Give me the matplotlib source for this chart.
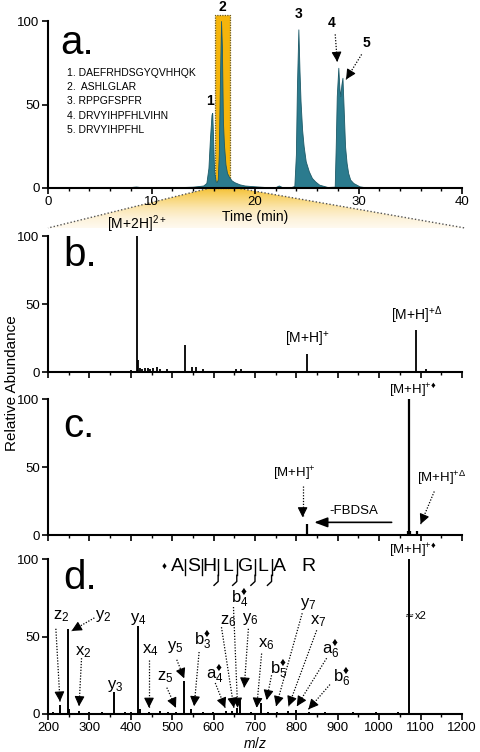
import numpy as np
import matplotlib.pyplot as plt
from matplotlib.patches import Polygon, Rectangle
from matplotlib.colors import LinearSegmentedColormap

plt.rcParams['font.family'] = ['Liberation Sans', 'DejaVu Sans']
plt.rcParams['mathtext.fontset'] = 'custom'
plt.rcParams['mathtext.rm'] = 'Liberation Sans'
plt.rcParams['mathtext.it'] = 'Liberation Sans:italic'
plt.rcParams['mathtext.fallback'] = 'stix'

# ---- panel a: LC chromatogram (time in min, relative intensity) ----
lc_time = [0, 2, 4, 6, 8, 8.5, 9, 10, 12, 13, 14, 14.6, 15.0, 15.3, 15.5, 15.65, 15.8, 15.87,
           15.95, 16.05, 16.2, 16.3, 16.4, 16.5, 16.6, 16.72, 16.8, 16.9, 17.0, 17.15, 17.3,
           17.5, 17.75, 18.0, 18.5, 19.0, 20.0, 21.0, 22.0, 22.3, 22.6, 23.5, 23.8, 23.95,
           24.05, 24.19, 24.3, 24.4, 24.55, 24.7, 24.9, 25.2, 25.5, 25.8, 26.2, 27.0, 27.7,
           27.8, 27.9, 28.05, 28.15, 28.24, 28.35, 28.45, 28.55, 28.7, 28.85, 29.0, 29.2,
           29.5, 30.1, 30.6, 32, 35, 38, 40]
lc_int = [0.3, 0.4, 0.3, 0.4, 0.6, 0.9, 0.5, 0.3, 0.4, 0.6, 0.8, 1.2, 1.5, 3, 12, 30, 44, 45,
          30, 10, 4, 3.6, 5, 20, 60, 100, 85, 40, 26, 14, 9,
          6.5, 4.5, 3.5, 2.2, 1.5, 1.0, 0.6, 0.6, 1.5, 0.6, 0.6, 1.2, 20,
          60, 95, 70, 52, 35, 25, 16, 10, 6, 4, 2, 0.6, 0.8,
          25, 55, 72, 60, 55, 62, 66, 50, 25, 15, 9, 5,
          3, 1, 0.5, 0.4, 0.5, 0.6, 0.3]
peak_ids = ['1', '2', '3', '4', '5']
peptides = ['1. DAEFRHDSGYQVHHQK', '2.  ASHLGLAR', '3. RPPGFSPFR',
            '4. DRVYIHPFHLVIHN', '5. DRVYIHPFHL']
sel_window = (16.1, 17.6)

# ---- panel b: full MS ----
ms1_mz = [400, 414.2, 418, 421.4, 428, 433.6, 441.7, 447, 453.8, 464.3, 470, 488.4, 510, 531,
          547, 557.5, 575, 599, 620, 640, 654, 665, 700, 744, 754, 790, 825.6, 870, 950, 1020,
          1060, 1089, 1112, 1135, 1150, 1178, 1195]
ms1_int = [1.5, 100, 9, 3, 2, 3, 3, 2, 3, 4, 2, 2.5, 1, 20,
           4, 4, 2, 1, 1, 1, 2.5, 2.5, 1, 1, 1, 0.8, 13, 0.6, 0.6, 0.8,
           1, 31, 2, 1, 0.8, 1, 1]

# ---- panel c: activation of [M+H]+* ----
ms2_mz = [825.6, 1070, 1072.8, 1075, 1090.6]
ms2_int = [8, 3, 100, 3, 3]

# ---- panel d: MS3 fragments ----
ms3_mz = [212, 229, 247.5, 251.6, 274.9, 300, 330, 360, 386, 400, 416.5, 422, 444, 470, 490,
          510, 529, 545, 575, 599, 630, 645, 657, 664, 690, 714, 732, 752, 780, 800, 830,
          870, 937, 993, 1045, 1073]
ms3_int = [1, 5.6, 55, 3, 2, 1, 1, 14.2, 1.5, 1, 56.5, 3, 1, 2, 1,
           1, 21, 3, 1, 1, 2, 2, 4, 10, 1.5, 7, 1, 1.5, 2, 2.5, 1,
           1, 1, 1.2, 1, 100]

# fragment labels: (text, label x, label y, arrow start, arrow end)
frag_labels = [
    ('z_2', 233, 63, (219, 55), (229, 8)),
    ('y_2', 334, 63, (312, 62), (257, 53.6)),
    ('x_2', 285, 40, (281, 36), (275, 5)),
    ('y_3', 362, 18, None, None),
    ('y_4', 418, 61, None, None),
    ('x_4', 446, 41, (444, 35), (444, 4)),
    ('y_5', 507, 43.5, (511, 35), (529, 23)),
    ('z_5', 483, 24, (487, 17), (509, 4)),
    ('b_3^{\u2666}', 574, 48, (565, 40), (553, 5)),
    ('a_4^{\u2666}', 602, 26, (604, 20), (628, 4)),
    ('z_6', 635, 60, (619, 56), (649, 4)),
    ('b_4^{\u2666}', 664, 75, (648, 69), (658, 4)),
    ('y_6', 688, 61, (684, 55), (674, 17)),
    ('x_6', 728, 45, (716, 39), (704, 4)),
    ('b_5^{\u2666}', 758, 29, (740, 25), (728, 9)),
    ('y_7', 828, 71, (814, 65), (751, 5)),
    ('x_7', 852, 60, (849, 54), (781, 5)),
    ('a_6^{\u2666}', 884, 42, (873, 36), (801, 5)),
    ('b_6^{\u2666}', 909, 24, (881, 19), (829, 3)),
]
seq_letters = ['\u2666', 'A', 'S', 'H', 'L', 'G', 'L', 'A', 'R']
seq_pos = [480, 512, 551, 591, 634, 678, 720, 760, 828]
cut_pos = [531, 571, 611, 656, 700, 740]
cut_nterm = [False, False, True, True, True, True]

W, H = 481, 752
fig = plt.figure(figsize=(W / 100, H / 100), dpi=100)

L, Wd = 48 / W, 414 / W
ax_a = fig.add_axes([L, 1 - 188 / H, Wd, 167 / H])
ax_b = fig.add_axes([L, 1 - 372 / H, Wd, 136 / H])
ax_c = fig.add_axes([L, 1 - 535 / H, Wd, 136 / H])
ax_d = fig.add_axes([L, 1 - 714 / H, Wd, 155 / H])

# overlay for the zoom-out gradient
ov = fig.add_axes([0, 0, 1, 1], zorder=-1)
ov.set_xlim(0, W)
ov.set_ylim(H, 0)
ov.axis('off')
trap = Polygon([(210, 188), (237, 188), (465, 228), (48, 228)], closed=True,
               facecolor='none', edgecolor='none')
ov.add_patch(trap)
cmap = LinearSegmentedColormap.from_list('g', ['#f4bd2a', '#f8d470', '#fbe6b0', '#fdf3dc', '#fffbf3'])
grad = np.linspace(0, 1, 100).reshape(-1, 1)
im = ov.imshow(grad, cmap=cmap, extent=[40, 470, 230, 186], aspect='auto')
im.set_clip_path(trap)
ov.plot([210, 48], [188, 228], color='#555555', ls=(0, (1, 1.5)), lw=1)
ov.plot([237, 465], [188, 228], color='#555555', ls=(0, (1, 1.5)), lw=1)


def style(ax):
    ax.set_facecolor('none')
    for s in ['top', 'right']:
        ax.spines[s].set_visible(False)
    for s in ['left', 'bottom']:
        ax.spines[s].set_linewidth(1.5)
    ax.tick_params(direction='out', width=1.2, length=4, labelsize=9.5, pad=2)
    ax.tick_params(which='minor', direction='out', width=1, length=2.5)
    ax.set_yticks([0, 50, 100])


def dotted_arrow(ax, start, end):
    ax.plot([start[0], end[0]], [start[1], end[1]], color='k', lw=0.9,
            ls=(0, (1, 1.3)), clip_on=False)
    p0 = ax.transData.transform(start)
    p1 = ax.transData.transform(end)
    d = (p1 - p0) / np.hypot(*(p1 - p0))
    back = ax.transData.inverted().transform(p1 - d * 7)
    ax.annotate('', xy=end, xytext=back,
                arrowprops=dict(arrowstyle='-|>,head_length=0.6,head_width=0.3',
                                color='k', lw=0.8, shrinkA=0, shrinkB=0))


# ---- a ----
style(ax_a)
ax_a.set_xlim(0, 40)
ax_a.set_ylim(0, 100)
ax_a.set_xticks([0, 10, 20, 30, 40])
ax_a.set_xticks(np.arange(0, 41, 2), minor=True)
ax_a.add_patch(Rectangle((sel_window[0], 0), sel_window[1] - sel_window[0], 103.5,
                         facecolor='#f5b50c', edgecolor='#6b5a20', lw=0.9,
                         ls=(0, (1, 1)), clip_on=False, zorder=1))
ax_a.fill_between(lc_time, lc_int, color='#2b7b8e', lw=0.6, edgecolor='#1d5a68', zorder=2)
ax_a.set_xlabel('Time (min)', fontsize=10, labelpad=1)
ax_a.text(1.2, 87, 'a.', fontsize=29, va='center', ha='left')
for i, p in enumerate(peptides):
    ax_a.text(1.8, 69 - i * 8.6, p, fontsize=7.5, va='center', ha='left')
for lab, x, y in zip(peak_ids, [15.65, 16.8, 24.2, 27.45, 30.75], [48, 104, 100, 94.5, 82.5]):
    ax_a.text(x, y, lab, fontsize=10, fontweight='bold', ha='center', va='bottom', clip_on=False)
dotted_arrow(ax_a, (27.75, 92), (27.95, 75.5))
dotted_arrow(ax_a, (30.3, 80), (28.8, 65))

# ---- b, c, d ----
for ax in (ax_b, ax_c, ax_d):
    style(ax)
    ax.set_xlim(200, 1200)
    ax.set_ylim(0, 100)
    ax.set_xticks(np.arange(200, 1201, 100))
    ax.set_xticks(np.arange(200, 1201, 50), minor=True)
ax_b.tick_params(labelbottom=False)
ax_c.tick_params(labelbottom=False)

ax_b.vlines(ms1_mz, 0, ms1_int, color='k', lw=1.3)
ax_b.text(0.036, 0.86, 'b.', fontsize=29, transform=ax_b.transAxes, va='center')
ax_b.text(414, 101, '[M+2H]$^{2+}$', fontsize=10, ha='center', va='bottom', clip_on=False)
ax_b.text(826, 17, '[M+H]$^{+}$', fontsize=10, ha='center', va='bottom')
ax_b.text(1090, 34, '[M+H]$^{+\\Delta}$', fontsize=10, ha='center', va='bottom')

ax_c.vlines(ms2_mz, 0, ms2_int, color='k', lw=1.6)
ax_c.text(0.036, 0.80, 'c.', fontsize=29, transform=ax_c.transAxes, va='center')
ax_c.text(1082, 100, '[M+H]$^{+\u2666}$', fontsize=9.5, ha='center', va='bottom', clip_on=False)
ax_c.text(794, 38, '[M+H]$^{+}$', fontsize=9.5, ha='center', va='bottom')
ax_c.text(1150, 35, '[M+H]$^{+\\Delta}$', fontsize=9.5, ha='center', va='bottom')
ax_c.text(938, 18, '-FBDSA', fontsize=9.5, ha='center', va='center')
dotted_arrow(ax_c, (815, 36), (815, 13))
dotted_arrow(ax_c, (1133, 32), (1100, 8))
ax_c.annotate('', xy=(843, 9.3), xytext=(1030, 9.3),
              arrowprops=dict(arrowstyle='-|>,head_length=0.8,head_width=0.3',
                              color='k', lw=1.2, shrinkA=0, shrinkB=0))

ax_d.vlines(ms3_mz, 0, ms3_int, color='k', lw=1.4)
ax_d.text(0.036, 0.88, 'd.', fontsize=29, transform=ax_d.transAxes, va='center')
ax_d.text(1082, 100, '[M+H]$^{+\u2666}$', fontsize=9.5, ha='center', va='bottom', clip_on=False)
ax_d.text(1073, 63, '\u2248', fontsize=8, ha='center', va='center', family='DejaVu Sans')
ax_d.text(1087, 63, 'x2', fontsize=8, ha='left', va='center')
ax_d.set_xlabel('$m/z$', fontsize=10, labelpad=1)
for txt, lx, ly, st, en in frag_labels:
    ax_d.text(lx, ly, '$\\mathregular{%s}$' % txt, fontsize=12, ha='center', va='center')
    if st is not None:
        dotted_arrow(ax_d, st, en)

# sequence with fragmentation marks
for ch, x in zip(seq_letters, seq_pos):
    fs = 7 if ch == '\u2666' else 14
    ax_d.text(x, 95, ch, fontsize=fs, ha='center', va='center',
              family=['Liberation Sans', 'DejaVu Sans'])
for x, nt in zip(cut_pos, cut_nterm):
    ax_d.plot([x, x, x + 10], [89.5, 101.5, 101.5], color='k', lw=1)
    if nt:
        ax_d.plot([x, x, x - 10], [89.5, 85.5, 83], color='k', lw=1)

fig.text(0.025, 0.49, 'Relative Abundance', rotation=90, fontsize=11, ha='center', va='center')

fig.savefig('out.png', dpi=100)
